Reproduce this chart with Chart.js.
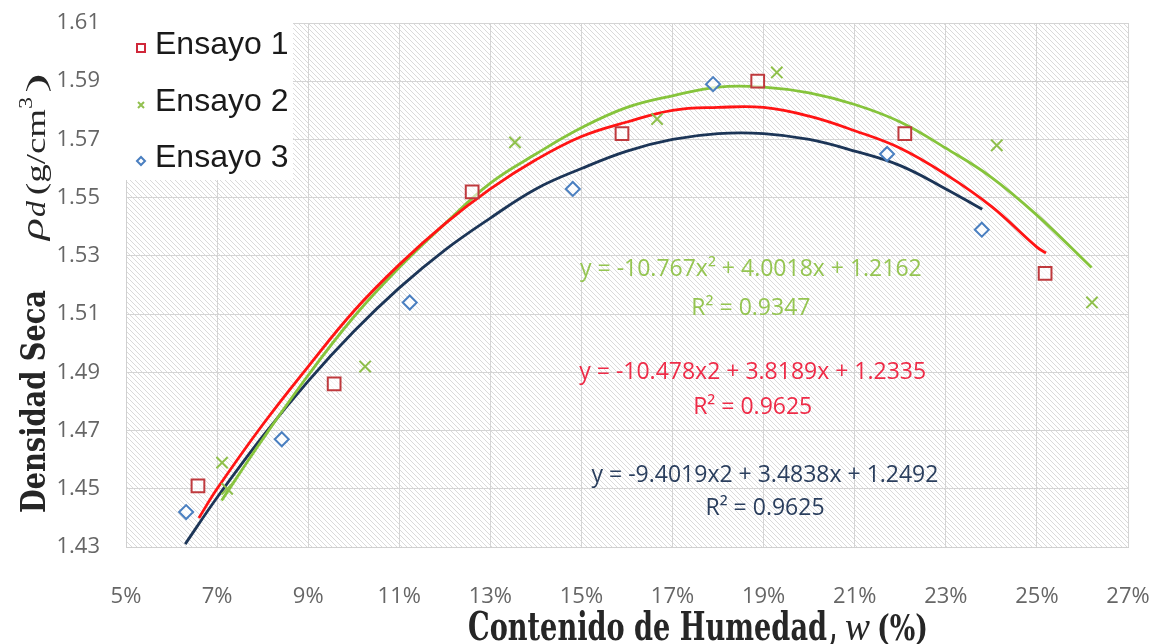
<!DOCTYPE html>
<html>
<head>
<meta charset="utf-8">
<script src="https://cdn.jsdelivr.net/npm/chart.js@4.4.1/dist/chart.umd.min.js"></script>
<style>
  html, body { margin:0; padding:0; background:#fff; }
  #wrap { width:1155px; height:644px; }
</style>
</head>
<body>
<div id="wrap"><canvas id="chart" width="1155" height="644"></canvas></div>
<script>
// measured points (x = moisture %, y = dry density g/cm3)
const ens1X = [6.58, 9.57, 12.60, 15.89, 18.87, 22.10, 25.18];
const ens1Y = [1.451, 1.486, 1.552, 1.572, 1.590, 1.572, 1.524];
const ens2X = [7.11, 7.22, 10.25, 13.54, 16.66, 19.29, 24.12, 26.21];
const ens2Y = [1.459, 1.450, 1.492, 1.569, 1.577, 1.593, 1.568, 1.514];
const ens3X = [6.32, 8.42, 11.23, 14.81, 17.89, 21.71, 23.79];
const ens3Y = [1.442, 1.467, 1.514, 1.553, 1.589, 1.565, 1.539];

// trend curves
const trend1X = [6.6, 7, 8, 9, 10, 11, 12, 13, 14, 15, 16, 17, 18, 19, 20, 21, 22, 23, 24, 25, 25.2];
const trend1Y = [1.440, 1.450, 1.472, 1.492, 1.511, 1.527, 1.541, 1.553, 1.563, 1.571, 1.576, 1.580, 1.581, 1.581, 1.578, 1.573, 1.567, 1.558, 1.547, 1.533, 1.531];
const trend2X = [7.1, 8, 9, 10, 11, 12, 13, 14, 15, 16, 17, 18, 19, 20, 21, 22, 23, 24, 25, 26.2];
const trend2Y = [1.446, 1.467, 1.489, 1.509, 1.526, 1.541, 1.555, 1.565, 1.574, 1.581, 1.585, 1.588, 1.588, 1.586, 1.582, 1.576, 1.567, 1.557, 1.544, 1.526];
const trend3X = [6.3, 7, 8, 9, 10, 11, 12, 13, 14, 15, 16, 17, 18, 19, 20, 21, 22, 23, 23.8];
const trend3Y = [1.431, 1.447, 1.468, 1.487, 1.504, 1.519, 1.532, 1.543, 1.553, 1.560, 1.566, 1.570, 1.572, 1.572, 1.570, 1.566, 1.561, 1.553, 1.546];

const seriesNames = ['Ensayo 1', 'Ensayo 2', 'Ensayo 3'];
const xTicks = [5, 7, 9, 11, 13, 15, 17, 19, 21, 23, 25, 27];
const yTicks = [1.43, 1.45, 1.47, 1.49, 1.51, 1.53, 1.55, 1.57, 1.59, 1.61];

// equation labels: [line 1, line 2, x, y1, y2, colour]
const eqLabels = [
  ['y = -10.767x\u00b2 + 4.0018x + 1.2162', 'R\u00b2 = 0.9347', 18.72, 1.5252, 1.5121, '#95c552'],
  ['y = -10.478x2 + 3.8189x + 1.2335', 'R\u00b2 = 0.9625', 18.76, 1.4898, 1.4781, '#ee2c48'],
  ['y = -9.4019x2 + 3.4838x + 1.2492', 'R\u00b2 = 0.9625', 19.03, 1.4547, 1.4434, '#2b3f5e']
];

const pts = (xs, ys) => xs.map((x, i) => ({x: x, y: ys[i]}));

function hatch(){
  const c = document.createElement('canvas');
  c.width = 5; c.height = 5;
  const g = c.getContext('2d');
  g.fillStyle = '#ffffff';
  g.fillRect(0, 0, 5, 5);
  g.strokeStyle = '#dadada';
  g.lineWidth = 1;
  g.beginPath();
  g.moveTo(-1, -1); g.lineTo(6, 6);
  g.moveTo(-1, 4); g.lineTo(1, 6);
  g.moveTo(4, -1); g.lineTo(6, 1);
  g.stroke();
  return g.createPattern(c, 'repeat');
}

// draw text squeezed/stretched to a given length, vs = vertical stretch
function fitText(ctx, txt, font, x0, len, base, vs){
  ctx.save();
  ctx.font = font;
  const w = ctx.measureText(txt).width;
  ctx.translate(x0, base);
  ctx.scale(len / w, vs);
  ctx.fillText(txt, 0, 0);
  ctx.restore();
}

const bgPlugin = {
  id: 'bg',
  beforeDraw(chart){
    const {ctx, chartArea: a} = chart;
    ctx.save();
    ctx.fillStyle = hatch();
    ctx.fillRect(a.left, a.top, a.right - a.left, a.bottom - a.top);
    ctx.restore();
  }
};

const textPlugin = {
  id: 'texts',
  afterDatasetsDraw(chart){
    const {ctx, scales: {x, y}, chartArea: a} = chart;
    ctx.save();
    // equations
    ctx.textAlign = 'center';
    ctx.textBaseline = 'middle';
    ctx.font = '23px "Open Sans"';
    eqLabels.forEach(e => {
      ctx.fillStyle = e[5];
      ctx.fillText(e[0], x.getPixelForValue(e[2]), y.getPixelForValue(e[3]));
      ctx.fillText(e[1], x.getPixelForValue(e[2]), y.getPixelForValue(e[4]));
    });

    // legend box
    ctx.fillStyle = '#ffffff';
    ctx.fillRect(a.left, a.top, 167, 157);
    const colors = ['#d0283a', '#92c050', '#4a7fc0'];
    const rowY = [a.top + 22, a.top + 79, a.top + 135];
    ctx.lineWidth = 2;
    ctx.textAlign = 'left';
    ctx.textBaseline = 'middle';
    ctx.font = '32px "Liberation Sans"';
    seriesNames.forEach((n, i) => {
      const mx = a.left + 15, my = rowY[i] + 3;
      ctx.strokeStyle = colors[i];
      ctx.beginPath();
      if (i === 0) ctx.rect(mx - 4, my - 4, 8, 8);
      else if (i === 1) { ctx.moveTo(mx - 3, my - 3); ctx.lineTo(mx + 3, my + 3); ctx.moveTo(mx + 3, my - 3); ctx.lineTo(mx - 3, my + 3); }
      else { ctx.moveTo(mx - 4, my); ctx.lineTo(mx, my - 4); ctx.lineTo(mx + 4, my); ctx.lineTo(mx, my + 4); ctx.closePath(); }
      ctx.stroke();
      ctx.fillStyle = '#1a1a1a';
      ctx.fillText(n, a.left + 29, rowY[i]);
    });

    // x axis title
    ctx.fillStyle = '#262626';
    ctx.textAlign = 'left';
    ctx.textBaseline = 'alphabetic';
    fitText(ctx, 'Contenido de Humedad', 'bold 32px "DejaVu Serif"', 468, 359, 640, 1.25);
    fitText(ctx, ',', 'bold 32px "DejaVu Serif"', 830, 7, 640, 1.25);
    fitText(ctx, 'w', 'italic 32px "Liberation Serif"', 845, 25, 640, 1.25);
    fitText(ctx, '(%)', 'bold 30px "DejaVu Serif"', 877, 51, 640, 1.2);

    // y axis title, run upward from y = 513
    ctx.translate(45, 513);
    ctx.rotate(-Math.PI / 2);
    fitText(ctx, 'Densidad Seca', 'bold 33px "DejaVu Serif"', 0, 223, 0, 1);
    fitText(ctx, '\u03c1', 'italic 32px "Liberation Serif"', 273, 22, -2, 1);
    fitText(ctx, 'd', 'italic 28px "Liberation Serif"', 296, 16, 0, 1);
    fitText(ctx, '(g/cm', '28px "Liberation Serif"', 318, 86, 0, 1);
    fitText(ctx, '3', '19px "Liberation Serif"', 404, 12, -13, 1);
    fitText(ctx, ')', '28px "Liberation Serif"', 420, 20, 0, 1);
    ctx.restore();
  }
};

const scatterSet = (label, data, style, color, radius, fill) => ({
  type: 'scatter', label: label, data: data, order: 0,
  pointStyle: style, pointRadius: radius, pointHoverRadius: radius,
  borderColor: color, backgroundColor: fill, borderWidth: 2
});
const lineSet = (label, data, color) => ({
  type: 'line', label: label, data: data, order: 1,
  showLine: true, pointRadius: 0, borderColor: color, borderWidth: 2.8,
  tension: 0.4, fill: false
});

new Chart(document.getElementById('chart'), {
  type: 'scatter',
  data: {
    datasets: [
      lineSet('t1', pts(trend1X, trend1Y), '#ff1414'),
      lineSet('t2', pts(trend2X, trend2Y), '#86c43c'),
      lineSet('t3', pts(trend3X, trend3Y), '#1c3557'),
      scatterSet(seriesNames[0], pts(ens1X, ens1Y), 'rect', '#bf3a3e', 9, 'rgba(255,255,255,0.6)'),
      scatterSet(seriesNames[1], pts(ens2X, ens2Y), 'crossRot', '#8fc04c', 8, 'transparent'),
      scatterSet(seriesNames[2], pts(ens3X, ens3Y), 'rectRot', '#4a7fc0', 7, 'rgba(255,255,255,0.7)')
    ]
  },
  options: {
    responsive: false,
    animation: false,
    layout: { padding: { top: 23, right: 27, left: 0, bottom: 0 } },
    plugins: { legend: { display: false }, tooltip: { enabled: false } },
    scales: {
      x: {
        type: 'linear', min: 5, max: 27,
        afterBuildTicks: s => { s.ticks = xTicks.map(v => ({value: v})); },
        afterFit: s => { s.height = 97; s.paddingLeft = 0; s.paddingRight = 0; },
        border: { color: '#d0d0d0' },
        grid: { color: '#d4d4d4', drawTicks: false },
        ticks: { padding: 37, color: '#666666', font: { family: 'Open Sans', size: 22 }, callback: v => v + '%' }
      },
      y: {
        type: 'linear', min: 1.43, max: 1.61,
        afterBuildTicks: s => { s.ticks = yTicks.map(v => ({value: v})); },
        afterFit: s => { s.width = 126; s.paddingTop = 0; s.paddingBottom = 0; },
        border: { color: '#d0d0d0' },
        grid: { color: '#d4d4d4', drawTicks: false },
        ticks: { padding: 26, color: '#666666', font: { family: 'Open Sans', size: 22 }, callback: v => v.toFixed(2) }
      }
    }
  },
  plugins: [bgPlugin, textPlugin]
});
</script>
</body>
</html>
